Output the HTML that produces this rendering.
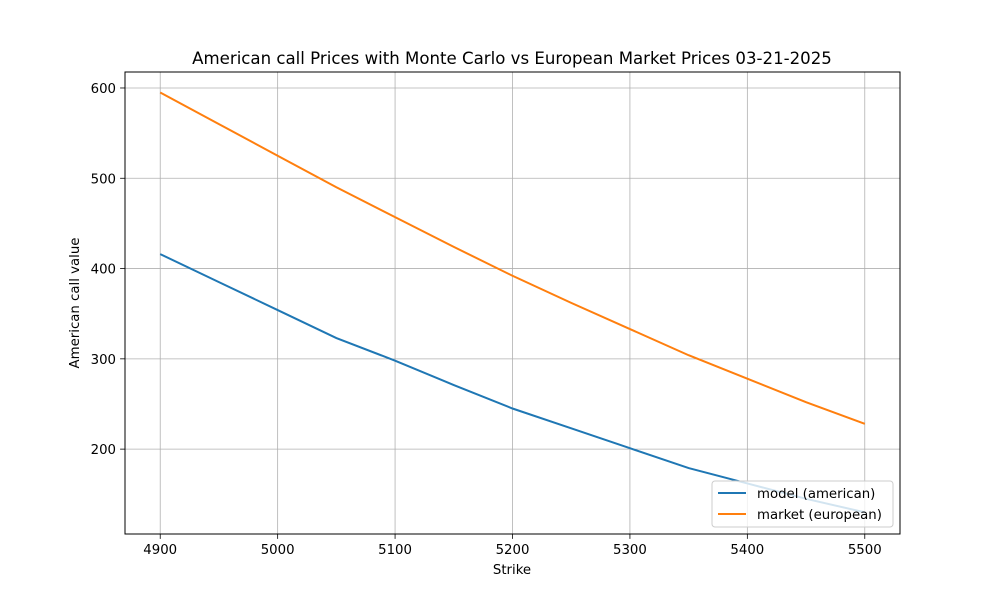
<!DOCTYPE html>
<html><head><meta charset="utf-8"><style>
body{margin:0;background:#fff;font-family:"DejaVu Sans","Liberation Sans",sans-serif}
</style></head><body>
<svg id="c" width="1000" height="600" xmlns="http://www.w3.org/2000/svg" font-family="DejaVu Sans, Liberation Sans, sans-serif"></svg>
<script>
const strikes=[4900,4950,5000,5050,5100,5150,5200,5250,5300,5350,5400,5450,5500];
const american=[416,385,354,323,298,271,245,223,201,179,162,145,130];
const european=[595,560,525,490,457,424,392,362,333,304,278,252,228];
const xTicks=[4900,5000,5100,5200,5300,5400,5500];
const yTicks=[200,300,400,500,600];
const L=125,R=900,T=72,B=534;
const xmin=4870,xmax=5530,ymin=106,ymax=617.7;
const sx=v=>L+(v-xmin)/(xmax-xmin)*(R-L);
const sy=v=>B-(v-ymin)/(ymax-ymin)*(B-T);
const svg=document.getElementById('c');const NS='http://www.w3.org/2000/svg';
function mk(t,a,p){const e=document.createElementNS(NS,t);for(const k in a)e.setAttribute(k,a[k]);(p||svg).appendChild(e);return e;}
let e;
e=mk('rect',{x:L,y:T,width:R-L,height:B-T,fill:'#fff'});


xTicks.forEach(v=>{const x=sx(v);
e=mk('line',{x1:x,x2:x,y1:T,y2:B,stroke:'#b0b0b0','stroke-width':0.8});


mk('line',{x1:x,x2:x,y1:B,y2:B+4.9,stroke:'#000','stroke-width':0.8});
e=mk('text',{x:x,y:B+20,'text-anchor':'middle','font-size':13.3});e.textContent=v;

});
yTicks.forEach(v=>{const y=sy(v);
e=mk('line',{x1:L,x2:R,y1:y,y2:y,stroke:'#b0b0b0','stroke-width':0.8});


mk('line',{x1:L-4.9,x2:L,y1:y,y2:y,stroke:'#000','stroke-width':0.8});
e=mk('text',{x:L-9,y:y+5,'text-anchor':'end','font-size':13.3});e.textContent=v;

});
function line(d,c,n){e=mk('polyline',{points:strikes.map((s,i)=>sx(s)+','+sy(d[i])).join(' '),fill:'none',stroke:c,'stroke-width':2});

}
line(american,'#1f77b4','model-american-line');
line(european,'#ff7f0e','market-european-line');
e=mk('rect',{x:L,y:T,width:R-L,height:B-T,fill:'none',stroke:'#000','stroke-width':1});


e=mk('text',{x:512,y:64,'text-anchor':'middle','font-size':16.6});e.textContent='American call Prices with Monte Carlo vs European Market Prices 03-21-2025';


e=mk('text',{x:512,y:574,'text-anchor':'middle','font-size':13.3});e.textContent='Strike';


e=mk('text',{x:79,y:303,'text-anchor':'middle','font-size':13.3,transform:'rotate(-90 79 303)'});e.textContent='American call value';


const g=mk('g',{});


mk('rect',{x:712,y:481,width:181,height:46,rx:3,fill:'#fff','fill-opacity':0.8,stroke:'#ccc'},g);
[['model (american)','#1f77b4'],['market (european)','#ff7f0e']].forEach((it,i)=>{const y=493+i*21;
mk('line',{x1:718,x2:746,y1:y,y2:y,stroke:it[1],'stroke-width':2},g);
e=mk('text',{x:757,y:y+5,'font-size':13.3},g);e.textContent=it[0];

});
</script>
</body></html>
